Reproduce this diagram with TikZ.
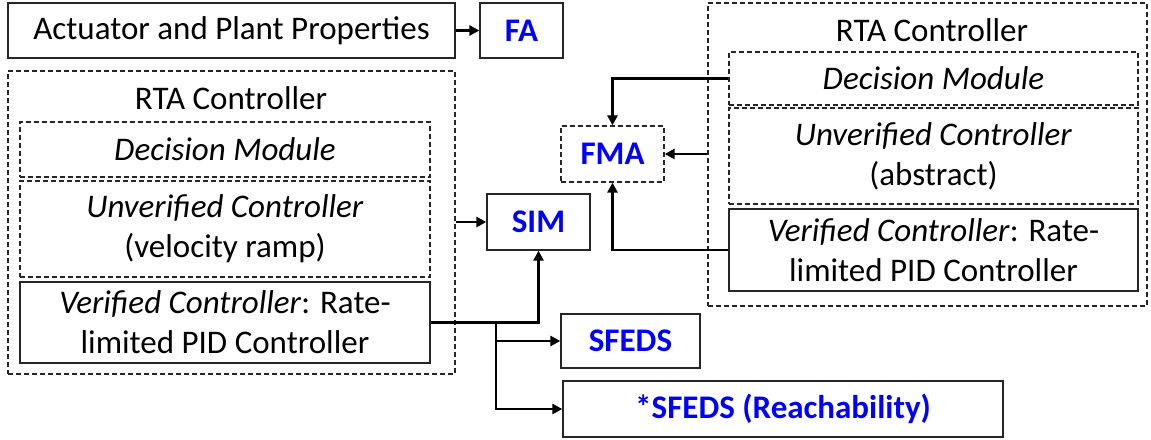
\documentclass[tikz,border=0pt]{standalone}
\usepackage{fontspec}
\setmainfont{Carlito}
\usetikzlibrary{arrows.meta}
\definecolor{labelblue}{RGB}{0,0,255}
\begin{document}
\begin{tikzpicture}[x=1pt,y=-1pt,
  every node/.style={font=\fontsize{33}{40}\selectfont},
  corners/.style args={#1/#2/#3/#4}{minimum width={(#3-#1)*1pt},
    minimum height={(#4-#2)*1pt}, at={({(#1+#3)/2},{(#2+#4)/2})}},
  box/.style={draw=black!85,line width=1.3pt,inner sep=0pt,align=center},
  dbox/.style={box,dash pattern=on 5pt off 3pt},
  tag/.style={text=labelblue,font=\fontsize{33}{40}\selectfont\bfseries},
  conn/.style={line width=2.8pt,-{Triangle[length=10pt,width=10pt]}}]
\useasboundingbox (0,0) rectangle (1151,439);

% top row
\node[box,corners=8/3/455/58] (act) {Actuator and Plant Properties};
\node[box,tag,corners=480/3/563/58] (fa) {FA};

% left run-time assurance controller
\node[dbox,corners=8/71/455/374] (lrta) {};
\node (ltitle) at (231,98) {RTA Controller};
\node[dbox,corners=20/122/430/177] (ldm) {\textit{Decision Module}};
\node[dbox,corners=20/181/430/277] (luc) {\textit{Unverified Controller}\\(velocity ramp)};
\node[box,corners=20/282/430/363] (lvc) {\textit{Verified Controller}: Rate-\\limited PID Controller};

% analysis targets
\node[box,tag,corners=487/194/590/250] (sim) {SIM};
\node[dbox,tag,corners=561/126/664/182] (fma) {FMA};
\node[box,tag,corners=561/314/700/368] (sfeds) {SFEDS};
\node[box,tag,corners=563/381/1003/437] (sfr) {*SFEDS (Reachability)};

% right run-time assurance controller
\node[dbox,corners=708/3/1147/306] (rrta) {};
\node (rtitle) at (932,30) {RTA Controller};
\node[dbox,corners=729/52/1138/105] (rdm) {\textit{Decision Module}};
\node[dbox,corners=729/108/1138/204] (ruc) {\textit{Unverified Controller}\\(abstract)};
\node[box,corners=729/209/1138/291] (rvc) {\textit{Verified Controller}: Rate-\\limited PID Controller};

% connectors
\draw[conn] (act.east) -- (fa.west);
\draw[conn] (lrta.east |- sim.west) -- (sim.west);
\draw[conn] (lvc.east) -| (sim.south);
\coordinate (split) at (496,0 |- lvc.east);
\draw[conn] (split) |- (sfeds.west);
\draw[conn] (split) |- (sfr.west);
\draw[conn] (rdm.west) -| (fma.north);
\draw[conn] (rrta.west |- fma.east) -- (fma.east);
\draw[conn] (rvc.west) -| (fma.south);
\end{tikzpicture}
\end{document}
